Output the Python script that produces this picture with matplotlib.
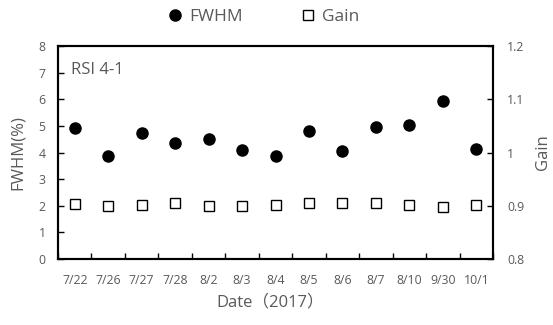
import matplotlib.pyplot as plt
import numpy as np

# data
dates = ['7/22', '7/26', '7/27', '7/28', '8/2', '8/3', '8/4',
         '8/5', '8/6', '8/7', '8/10', '9/30', '10/1']
fwhm = [4.91, 3.85, 4.72, 4.37, 4.51, 4.09, 3.85,
        4.81, 4.06, 4.94, 5.03, 5.94, 4.12]
gain = [0.903, 0.900, 0.902, 0.905, 0.900, 0.900, 0.902,
        0.905, 0.906, 0.905, 0.901, 0.897, 0.901]

grey = '#595959'
plt.rcParams['font.family'] = ['Open Sans', 'Noto Sans CJK JP', 'DejaVu Sans']

fig = plt.figure(figsize=(5.53, 3.25), dpi=100)
ax = fig.add_axes([58 / 553, 1 - 259 / 325, 435 / 553, 213 / 325])
ax2 = ax.twinx()

x = np.arange(len(dates))
h1, = ax.plot(x, fwhm, 'o', color='black', markersize=8, label='FWHM')
h2, = ax2.plot(x, gain, 's', markerfacecolor='white', markeredgecolor='black',
               markeredgewidth=1, markersize=7.5, label='Gain')

ax.set_xlim(-0.5, len(dates) - 0.5)
ax.set_ylim(0, 8)
ax2.set_ylim(0.8, 1.2)
ax.set_yticks(range(0, 9))
ax2.set_yticks([0.8, 0.9, 1.0, 1.1, 1.2])
ax2.set_yticklabels(['0.8', '0.9', '1', '1.1', '1.2'])

# category labels centred, tick marks on boundaries
ax.set_xticks(x)
ax.set_xticklabels(dates)
ax.set_xticks(np.arange(-0.5, len(dates), 1), minor=True)
ax.tick_params(axis='x', which='major', length=0, pad=11, labelsize=8.8, labelcolor=grey)
ax.tick_params(axis='x', which='minor', direction='in', length=4, width=1)
ax.tick_params(axis='y', direction='in', length=4, width=1, labelsize=8.8,
               labelcolor=grey, pad=9)
ax2.tick_params(axis='y', direction='in', length=4, width=1, labelsize=8.8,
                labelcolor=grey, pad=10)

for a in (ax, ax2):
    for s in a.spines.values():
        s.set_linewidth(1.5)

ax.set_ylabel('FWHM(%)', fontsize=12, color=grey)
ax.yaxis.set_label_coords((26 - 58) / 435, 0.5)
ax2.set_ylabel('Gain', fontsize=12, color=grey)
ax2.yaxis.set_label_coords((535 - 58) / 435, 0.5)
ax.set_xlabel('Date（2017）', fontsize=12, color=grey)
ax.xaxis.set_label_coords((270 - 58) / 435, -(294 - 259) / 213)

ax.text(0.03, 0.87, 'RSI 4-1', transform=ax.transAxes, fontsize=12, color=grey)

fig.legend(handles=[h1, h2], loc='center', bbox_to_anchor=(262 / 553, 1 - 17 / 325),
           ncol=2, frameon=False, fontsize=12.5, labelcolor=grey, columnspacing=3.2,
           handletextpad=0.2, handlelength=1.2)

fig.savefig('out.png', dpi=100)
